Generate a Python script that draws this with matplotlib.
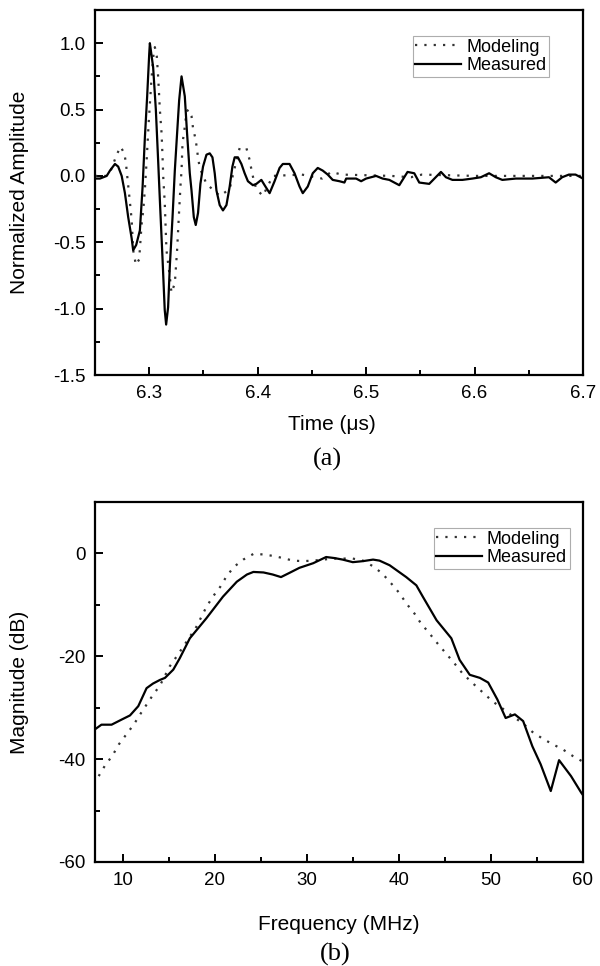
import matplotlib
matplotlib.use("Agg")
import matplotlib.pyplot as plt
from matplotlib.ticker import MultipleLocator

plt.rcParams['font.family'] = ['Liberation Sans', 'DejaVu Sans']
plt.rcParams['axes.unicode_minus'] = False

# ---------------- data: panel (a) ----------------
meas_t = [6.2500, 6.2546, 6.2608, 6.2638, 6.2684, 6.2714, 6.2746, 6.2776, 6.2806, 6.2838,
          6.2852, 6.2880, 6.2914, 6.2939, 6.2960, 6.2981, 6.3000, 6.3006, 6.3036, 6.3061,
          6.3082, 6.3098, 6.3123, 6.3143, 6.3156, 6.3174, 6.3190, 6.3215, 6.3236, 6.3257,
          6.3276, 6.3298, 6.3328, 6.3349, 6.3374, 6.3390, 6.3411, 6.3429, 6.3450, 6.3472,
          6.3496, 6.3528, 6.3558, 6.3583, 6.3604, 6.3620, 6.3650, 6.3680, 6.3712, 6.3742,
          6.3767, 6.3788, 6.3818, 6.3850, 6.3880, 6.3910, 6.3956, 6.3988, 6.4034, 6.4064,
          6.4110, 6.4156, 6.4202, 6.4232, 6.4294, 6.4340, 6.4386, 6.4416, 6.4462, 6.4508,
          6.4554, 6.4600, 6.4646, 6.4692, 6.4754, 6.4800, 6.4816, 6.4908, 6.4954, 6.5000,
          6.5092, 6.5152, 6.5214, 6.5306, 6.5382, 6.5444, 6.5490, 6.5582, 6.5690, 6.5736,
          6.5796, 6.5888, 6.5980, 6.6058, 6.6134, 6.6196, 6.6256, 6.6380, 6.6532, 6.6686,
          6.6748, 6.6808, 6.6870, 6.6931, 6.7000]
meas_a = [-0.02, -0.02, 0.00, 0.04, 0.09, 0.07, 0.00, -0.13, -0.31, -0.47,
          -0.56, -0.52, -0.41, -0.08, 0.29, 0.60, 0.92, 1.00, 0.82, 0.50,
          0.12, -0.18, -0.63, -1.01, -1.12, -0.99, -0.68, -0.31, 0.04, 0.32,
          0.57, 0.75, 0.60, 0.32, 0.02, -0.11, -0.31, -0.37, -0.28, -0.06,
          0.07, 0.16, 0.17, 0.14, 0.02, -0.11, -0.22, -0.26, -0.22, -0.08,
          0.07, 0.14, 0.14, 0.09, 0.02, -0.04, -0.07, -0.06, -0.03, -0.07,
          -0.13, -0.04, 0.06, 0.09, 0.09, 0.02, -0.08, -0.13, -0.08, 0.02,
          0.06, 0.04, 0.01, -0.03, -0.04, -0.05, -0.02, -0.02, -0.04, -0.02,
          0.00, -0.02, -0.03, -0.07, 0.03, 0.02, -0.05, -0.06, 0.03, -0.01,
          -0.03, -0.03, -0.02, -0.01, 0.02, -0.01, -0.03, -0.02, -0.02, -0.01,
          -0.05, -0.01, 0.01, 0.01, -0.02]

model_t = [6.2500, 6.2608, 6.2650, 6.2700, 6.2736, 6.2770, 6.2785, 6.2797, 6.2816, 6.2838,
           6.2852, 6.2877, 6.2907, 6.2920, 6.2929, 6.2945, 6.2960, 6.2975, 6.2995, 6.3020,
           6.3040, 6.3052, 6.3070, 6.3082, 6.3088, 6.3098, 6.3114, 6.3123, 6.3130, 6.3143,
           6.3159, 6.3190, 6.3205, 6.3236, 6.3257, 6.3276, 6.3290, 6.3298, 6.3307, 6.3322,
           6.3344, 6.3360, 6.3390, 6.3404, 6.3429, 6.3450, 6.3466, 6.3528, 6.3650, 6.3742,
           6.3758, 6.3788, 6.3804, 6.3834, 6.3896, 6.3926, 6.3942, 6.3963, 6.3988, 6.4048,
           6.4140, 6.4407, 6.4595, 6.4678, 6.4775, 6.5230, 6.5414, 6.5515, 6.6000, 6.6500,
           6.7000]
model_a = [0.00, 0.00, 0.05, 0.16, 0.22, 0.17, 0.10, 0.00, -0.15, -0.33,
           -0.56, -0.67, -0.63, -0.48, -0.37, -0.26, -0.10, 0.10, 0.40, 0.72,
           0.92, 0.97, 0.90, 0.75, 0.66, 0.50, 0.32, 0.14, -0.02, -0.20,
           -0.56, -0.76, -0.88, -0.81, -0.56, -0.26, -0.05, 0.04, 0.25, 0.33,
           0.48, 0.50, 0.45, 0.36, 0.27, 0.14, 0.06, -0.06, -0.15, -0.10,
           -0.04, 0.06, 0.12, 0.21, 0.21, 0.12, 0.05, -0.03, -0.10, -0.15,
           0.00, 0.01, -0.02, 0.03, 0.01, 0.00, -0.01, 0.01, 0.00, 0.00,
           0.00]

# ---------------- data: panel (b) ----------------
meas_f = [7.0, 7.7, 8.8, 9.9, 10.8, 11.7, 12.6, 13.3, 14.05, 14.6, 15.5, 16.2, 17.3, 19.1,
          20.9, 22.4, 23.5, 24.2, 25.3, 26.3, 27.2, 28.1, 29.2, 30.7, 32.1, 33.0, 33.9,
          35.0, 36.1, 37.2, 37.9, 39.0, 40.8, 41.9, 42.6, 44.1, 45.7, 46.6, 47.7, 48.8,
          49.7, 50.7, 51.6, 52.6, 53.5, 54.5, 55.4, 56.5, 57.4, 58.7, 59.8, 60.0]
meas_db = [-34.2, -33.3, -33.3, -32.3, -31.5, -29.7, -26.2, -25.3, -24.6, -24.2, -22.6,
           -20.4, -16.5, -12.6, -8.4, -5.5, -4.1, -3.6, -3.7, -4.1, -4.6, -3.8, -2.8,
           -1.9, -0.7, -0.9, -1.2, -1.7, -1.5, -1.2, -1.4, -2.3, -4.6, -6.2, -8.4,
           -13.0, -16.5, -20.7, -23.6, -24.2, -25.1, -28.4, -32.0, -31.3, -32.6, -37.5,
           -41.0, -46.2, -40.2, -43.3, -46.5, -47.0]

model_f = [7.4, 8.1, 8.9, 9.6, 10.4, 11.2, 11.9, 12.6, 13.3, 14.05, 15.1, 16.0, 17.3, 18.0,
           19.1, 19.8, 20.6, 21.3, 22.1, 23.1, 24.2, 25.3, 26.4, 27.4, 28.5, 29.6, 30.7,
           31.8, 32.8, 33.9, 35.0, 36.1, 37.2, 38.2, 39.2, 40.1, 40.8, 41.7, 42.4, 43.3,
           44.2, 45.1, 46.0, 46.9, 48.0, 49.1, 50.2, 51.3, 52.4, 53.5, 54.5, 55.6, 56.7,
           57.8, 58.9, 60.0]
model_db = [-43.3, -41.2, -39.3, -37.1, -35.2, -33.3, -31.3, -29.4, -27.5, -25.7, -22.0,
            -19.7, -16.2, -14.3, -10.4, -8.4, -6.5, -4.4, -2.6, -1.2, -0.1, -0.2, -0.5,
            -0.9, -1.4, -1.5, -1.4, -1.2, -1.0, -1.0, -1.0, -1.4, -2.5, -3.9, -5.9, -7.8,
            -9.7, -11.7, -13.6, -15.5, -17.5, -19.4, -21.3, -23.3, -25.2, -27.0, -28.8,
            -30.2, -31.7, -33.1, -34.7, -36.0, -37.1, -38.1, -39.4, -40.5]

labels = ["Modeling", "Measured"]

W, H = 600, 966
fig = plt.figure(figsize=(W / 100, H / 100), dpi=100)

def px_rect(x0, y0, x1, y1):
    return [x0 / W, 1 - y1 / H, (x1 - x0) / W, (y1 - y0) / H]

ax1 = fig.add_axes(px_rect(95, 10, 583, 375))
ax2 = fig.add_axes(px_rect(95, 502, 583, 862))

DOT = (0, (1, 3.2))
for ax in (ax1, ax2):
    for s in ax.spines.values():
        s.set_linewidth(1.6)
    ax.tick_params(which='both', direction='in', top=False, right=False,
                   labelsize=13.5, width=1.4, pad=7)
    ax.tick_params(which='major', length=6)
    ax.tick_params(which='minor', length=3.5)

# panel (a)
ax1.plot(model_t, model_a, color='#333333', lw=1.6, linestyle=DOT, label=labels[0])
ax1.plot(meas_t, meas_a, color='black', lw=1.6, label=labels[1])
ax1.set_xlim(6.25, 6.7)
ax1.set_ylim(-1.5, 1.25)
ax1.xaxis.set_major_locator(MultipleLocator(0.1))
ax1.xaxis.set_minor_locator(MultipleLocator(0.05))
ax1.yaxis.set_major_locator(MultipleLocator(0.5))
ax1.yaxis.set_minor_locator(MultipleLocator(0.25))
ax1.set_xticks([6.3, 6.4, 6.5, 6.6, 6.7])
ax1.set_xticklabels(['6.3', '6.4', '6.5', '6.6', '6.7'])
ax1.set_yticks([-1.5, -1.0, -0.5, 0.0, 0.5, 1.0])
ax1.set_yticklabels(['-1.5', '-1.0', '-0.5', '0.0', '0.5', '1.0'])
leg1 = ax1.legend(loc='upper right', bbox_to_anchor=(0.930, 0.929), borderaxespad=0,
                  fontsize=13, frameon=True, fancybox=False, edgecolor='#999999',
                  handlelength=2.5, handletextpad=0.3, borderpad=0.15, labelspacing=0.1)
leg1.get_frame().set_linewidth(0.8)

# panel (b)
ax2.plot(model_f, model_db, color='#333333', lw=1.6, linestyle=DOT, label=labels[0])
ax2.plot(meas_f, meas_db, color='black', lw=1.6, label=labels[1])
ax2.set_xlim(7, 60)
ax2.set_ylim(-60, 10)
ax2.xaxis.set_major_locator(MultipleLocator(10))
ax2.xaxis.set_minor_locator(MultipleLocator(5))
ax2.yaxis.set_major_locator(MultipleLocator(20))
ax2.yaxis.set_minor_locator(MultipleLocator(10))
leg2 = ax2.legend(loc='upper right', bbox_to_anchor=(0.973, 0.928), borderaxespad=0,
                  fontsize=13, frameon=True, fancybox=False, edgecolor='#999999',
                  handlelength=2.5, handletextpad=0.3, borderpad=0.15, labelspacing=0.1)
leg2.get_frame().set_linewidth(0.8)

# axis labels as figure text
fig.text(20 / W, 1 - 192 / H, 'Normalized Amplitude', rotation=90, ha='center', va='center', fontsize=15)
fig.text(332 / W, 1 - 425 / H, 'Time (\u03bcs)', ha='center', va='center', fontsize=15)
fig.text(327 / W, 1 - 459 / H, '(a)', ha='center', va='center', fontsize=19, family='Liberation Serif')

fig.text(20 / W, 1 - 682 / H, 'Magnitude (dB)', rotation=90, ha='center', va='center', fontsize=15)
fig.text(339 / W, 1 - 924 / H, 'Frequency (MHz)', ha='center', va='center', fontsize=15)
fig.text(335 / W, 1 - 954 / H, '(b)', ha='center', va='center', fontsize=19, family='Liberation Serif')

fig.savefig('out.png', dpi=100)
